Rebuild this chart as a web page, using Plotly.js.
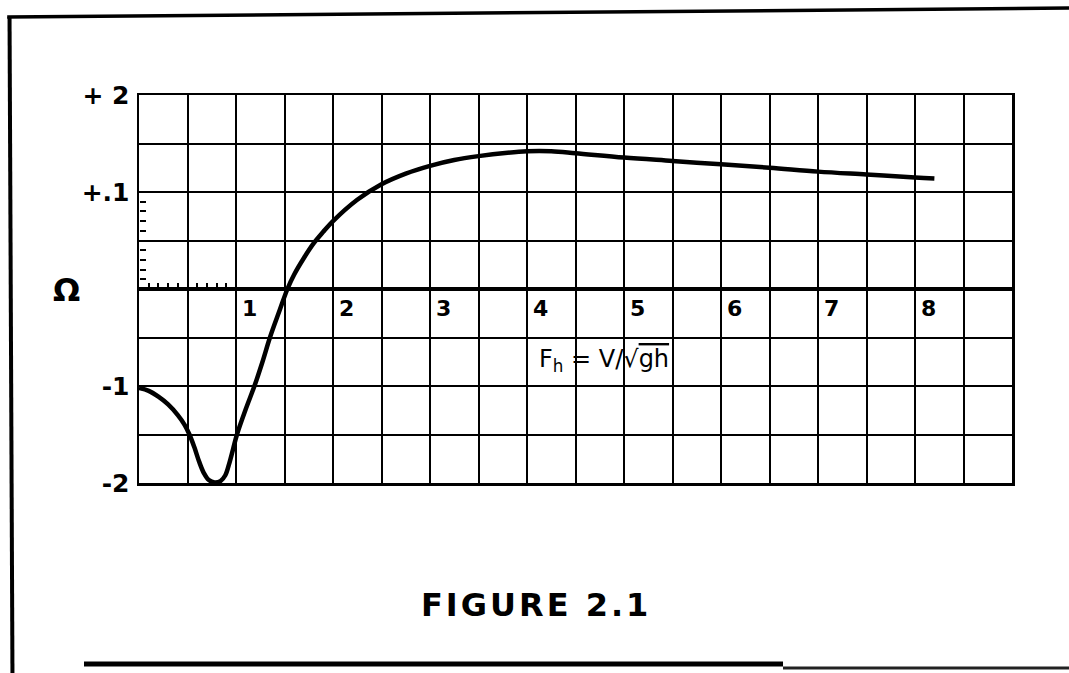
<!DOCTYPE html>
<html><head><meta charset="utf-8">
<script src="https://cdn.plot.ly/plotly-3.0.1.min.js"></script>
<style>html,body{margin:0;padding:0;background:#fff}</style>
</head><body>
<div id="chart" style="width:1069px;height:673px"></div>
<script>
// ---- data ----
const froudeNumber = [0, 0.1, 0.2, 0.3, 0.4, 0.47, 0.52, 0.57, 0.62, 0.67, 0.72, 0.78, 0.84, 0.89, 0.93, 0.97, 1.01, 1.1, 1.19, 1.27, 1.35, 1.45, 1.53, 1.6, 1.7, 1.8, 1.9, 2.0, 2.25, 2.5, 2.75, 3.0, 3.25, 3.5, 3.8, 4.0, 4.25, 4.5, 5.0, 5.5, 6.0, 6.5, 7.0, 7.5, 8.0, 8.2];
const omega = [-1.02, -1.05, -1.11, -1.19, -1.3, -1.4, -1.5, -1.63, -1.78, -1.9, -1.97, -1.995, -1.98, -1.92, -1.8, -1.65, -1.5, -1.24, -1.0, -0.76, -0.5, -0.22, 0, 0.15, 0.32, 0.47, 0.59, 0.7, 0.92, 1.08, 1.19, 1.27, 1.33, 1.37, 1.405, 1.42, 1.42, 1.4, 1.355, 1.32, 1.285, 1.25, 1.21, 1.18, 1.15, 1.14];
const xLabelValues = [1, 2, 3, 4, 5, 6, 7, 8];
const xLabelText = ["1", "2", "3", "4", "5", "6", "7", "8"];
const yTickValues = [-2, -1, 1, 2];
const yTickText = ["-2", "-1", "+.1", "+ 2"];
const minorTickValues = [0.1, 0.2, 0.3, 0.4, 0.6, 0.7, 0.8, 0.9];
const yAxisLabel = "Ω";
const formulaLabel = "F<sub>h</sub> = V/√<span style='text-decoration:overline'>gh</span>";
const figureCaption = "<span style='letter-spacing:3px'>FIGURE 2.1</span>";

const ink = '#000';
const curve = {
  x: froudeNumber, y: omega, type: 'scatter', mode: 'lines',
  line: {color: ink, width: 4.5, shape: 'spline', smoothing: 1},
  hoverinfo: 'skip', showlegend: false
};
const minorX = {
  x: minorTickValues, y: minorTickValues.map(() => 0), xaxis: 'x2', yaxis: 'y',
  type: 'scatter', mode: 'none', hoverinfo: 'skip', showlegend: false
};
const minorY = {
  x: minorTickValues.map(() => 0), y: minorTickValues, xaxis: 'x', yaxis: 'y2',
  type: 'scatter', mode: 'none', hoverinfo: 'skip', showlegend: false
};

const boldFont = (size) => ({family: 'DejaVu Sans', size: size, color: ink, weight: 'bold'});

const annotations = xLabelValues.map((v, i) => ({
  x: v, y: 0, xref: 'x', yref: 'y', text: xLabelText[i],
  xanchor: 'left', yanchor: 'top', xshift: 4, yshift: -5,
  showarrow: false, font: boldFont(22)
}));
annotations.push({
  x: -0.0825, y: 0.497, xref: 'paper', yref: 'paper', text: yAxisLabel,
  xanchor: 'center', yanchor: 'middle', showarrow: false, font: boldFont(32)
});
annotations.push({
  x: 4.1, y: -0.74, xref: 'x', yref: 'y', text: formulaLabel,
  xanchor: 'left', yanchor: 'middle', showarrow: false,
  font: {family: 'DejaVu Sans', size: 24, color: ink}
});
annotations.push({
  x: 0.4548, y: -0.3144, xref: 'paper', yref: 'paper', text: figureCaption,
  xanchor: 'center', yanchor: 'middle', showarrow: false, font: boldFont(32)
});

const frame = (x0, y0, x1, y1, w, c) => ({
  type: 'line', xref: 'paper', yref: 'paper', x0, y0, x1, y1,
  line: {color: c || ink, width: w}
});

const layout = {
  width: 1069, height: 673,
  margin: {l: 139, r: 57, t: 95, b: 190},
  paper_bgcolor: '#fff', plot_bgcolor: '#fff',
  showlegend: false,
  xaxis: {
    range: [0, 9], tick0: 0, dtick: 0.5, showgrid: true, gridcolor: ink, gridwidth: 2,
    showline: true, mirror: true, linecolor: ink, linewidth: 2.5,
    zeroline: false, showticklabels: false, ticks: '', fixedrange: true
  },
  yaxis: {
    range: [-2, 2], tickmode: 'array', tickvals: yTickValues, ticktext: yTickText,
    showgrid: true, gridcolor: ink, gridwidth: 2,
    minor: {tickmode: 'linear', tick0: 0, dtick: 0.5, showgrid: true, gridcolor: ink, gridwidth: 2, ticks: ''},
    zeroline: true, zerolinecolor: ink, zerolinewidth: 4,
    showline: true, mirror: true, linecolor: ink, linewidth: 2.5,
    ticks: '', ticklabelstandoff: 2, tickfont: boldFont(25), fixedrange: true
  },
  xaxis2: {
    overlaying: 'x', anchor: 'free', position: 0.5, side: 'bottom', range: [0, 9],
    tickmode: 'array', tickvals: minorTickValues, ticks: 'inside', ticklen: 6,
    tickwidth: 2, tickcolor: ink, showticklabels: false, showgrid: false,
    zeroline: false, showline: false, fixedrange: true
  },
  yaxis2: {
    overlaying: 'y', anchor: 'free', position: 0, side: 'left', range: [-2, 2],
    tickmode: 'array', tickvals: minorTickValues, ticks: 'inside', ticklen: 6,
    tickwidth: 2, tickcolor: ink, showticklabels: false, showgrid: false,
    zeroline: false, showline: false, fixedrange: true
  },
  annotations: annotations,
  shapes: [
    frame(-0.1483, 1.201, -0.1449, -0.52, 4),
    frame(-0.151, 1.201, 1.07, 1.224, 3.5),
    frame(-0.063, -0.4665, 0.7377, -0.4665, 5),
    frame(0.7377, -0.4768, 1.07, -0.4768, 3, '#222')
  ]
};

Plotly.newPlot('chart', [curve, minorX, minorY], layout, {displayModeBar: false, staticPlot: true});
</script>
</body></html>
